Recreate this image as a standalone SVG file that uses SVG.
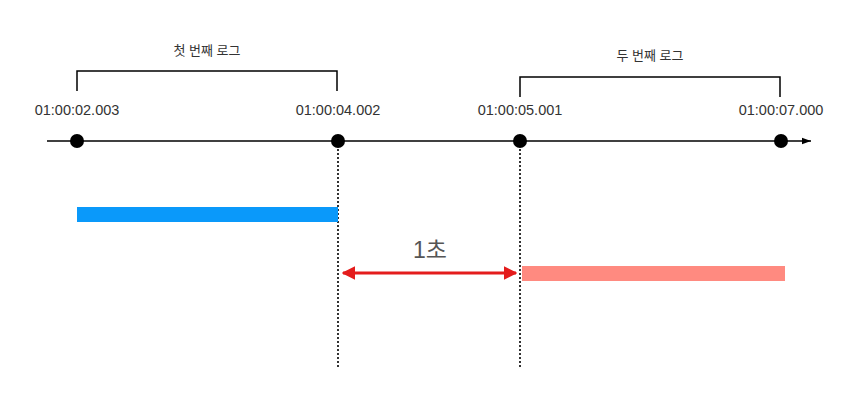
<svg xmlns="http://www.w3.org/2000/svg" width="863" height="412" viewBox="0 0 863 412">
<style>
.t{font-family:"Liberation Sans","Noto Sans CJK KR",sans-serif;font-size:14.5px;fill:#333;text-anchor:middle}
.k{font-family:"Liberation Sans","Noto Sans CJK KR",sans-serif;font-size:13px;fill:#333;text-anchor:middle}
.br{fill:none;stroke:#000;stroke-width:1.5}
.dot{fill:#000}
.dash{stroke:#000;stroke-width:1.6;stroke-dasharray:2 2;fill:none}
</style>
<defs>
<marker id="ah" viewBox="0 0 10 10" refX="10" refY="5" markerWidth="6" markerHeight="6" orient="auto"><path d="M0,1.5 L10,5 L0,8.5 Z" fill="#000"/></marker>
<marker id="rh" viewBox="0 0 10 10" refX="9" refY="5" markerWidth="4.5" markerHeight="4.5" orient="auto-start-reverse"><path d="M0,0 L10,5 L0,10 Z" fill="#e41c1c"/></marker>
</defs>
<g id="connectors">
<line x1="47" y1="141" x2="811" y2="141" stroke="#000" stroke-width="1.5" marker-end="url(#ah)"/>
<line class="dash" x1="338" y1="141" x2="338" y2="368"/>
<line class="dash" x1="520" y1="141" x2="520" y2="368"/>
<line x1="343" y1="273" x2="516" y2="273" stroke="#e41c1c" stroke-width="3" marker-start="url(#rh)" marker-end="url(#rh)"/>
</g>
<g id="first-log">
<path class="br" d="M77,91 V71 H337 V91"/>
<text class="k" x="207" y="55">첫 번째 로그</text>
</g>
<g id="second-log">
<path class="br" d="M520,97 V77 H780 V97"/>
<text class="k" x="650" y="60">두 번째 로그</text>
</g>
<g id="t1"><text class="t" x="77" y="115">01:00:02.003</text><circle class="dot" cx="77" cy="141" r="7"/></g>
<g id="t2"><text class="t" x="338" y="115">01:00:04.002</text><circle class="dot" cx="338" cy="141" r="7"/></g>
<g id="t3"><text class="t" x="520" y="115">01:00:05.001</text><circle class="dot" cx="520" cy="141" r="7"/></g>
<g id="t4"><text class="t" x="781" y="115">01:00:07.000</text><circle class="dot" cx="781" cy="141" r="7"/></g>
<g id="bar1"><rect x="77" y="207" width="261" height="15" fill="#0a99fa"/></g>
<g id="bar2"><rect x="522" y="266" width="263" height="15" fill="#ff8a80"/></g>
<g id="gap-label"><text x="430" y="258" font-family="Liberation Sans,'Noto Sans CJK KR',sans-serif" font-size="23" fill="#555" text-anchor="middle">1초</text></g>
</svg>
